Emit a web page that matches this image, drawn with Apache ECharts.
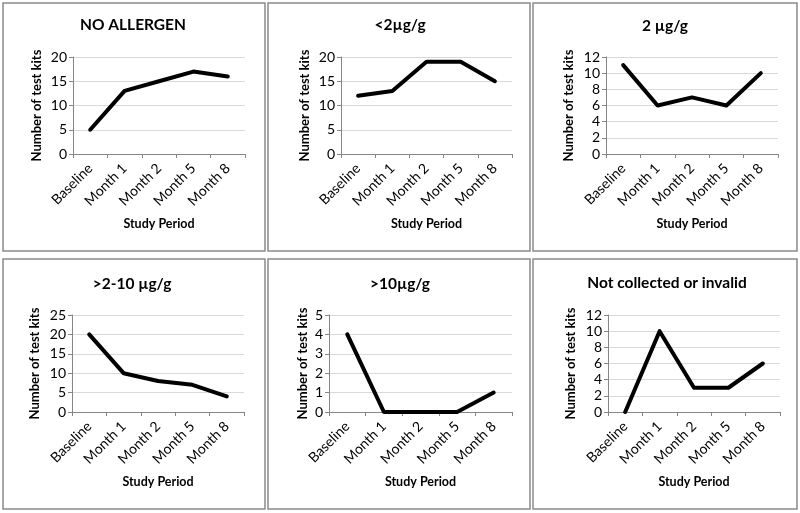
<!DOCTYPE html>
<html>
<head>
<meta charset="utf-8">
<script src="https://cdn.jsdelivr.net/npm/echarts@6/dist/echarts.min.js"></script>
<style>
  html, body { margin: 0; padding: 0; background: #fff; }
  #chart { width: 800px; height: 513px; }
</style>
</head>
<body>
<div id="chart"></div>
<script>
// ---- Data ----
const categories = ['Baseline', 'Month 1', 'Month 2', 'Month 5', 'Month 8'];
const panelTitles = ['NO ALLERGEN', '<2µg/g', '2 µg/g', '>2-10 µg/g', '>10µg/g', 'Not collected or invalid'];
const noAllergen = [5, 13, 15, 17, 16];
const lessThan2 = [12, 13, 19, 19, 15];
const exactly2 = [11, 6, 7, 6, 10];
const from2to10 = [20, 10, 8, 7, 4];
const over10 = [4, 0, 0, 0, 1];
const notCollected = [0, 10, 3, 3, 6];
const yMaxes = [20, 20, 12, 25, 5, 12];
const yIntervals = [5, 5, 2, 5, 1, 2];
const yAxisTitle = 'Number of test kits';
const xAxisTitle = 'Study Period';

// ---- Layout ----
const seriesData = [noAllergen, lessThan2, exactly2, from2to10, over10, notCollected];
const grids = [
  { left: 73, top: 57, width: 172, height: 97 },
  { left: 341, top: 57, width: 171, height: 97 },
  { left: 606, top: 57, width: 172, height: 97 },
  { left: 72, top: 315, width: 172, height: 97 },
  { left: 329, top: 315, width: 183, height: 97 },
  { left: 608, top: 315, width: 172, height: 97 }
];
const yNameGaps = [30, 30, 31, 31, 20, 31];
const titlePos = [[133, 25], [400, 25], [665, 26], [132, 284], [400, 284], [667, 283]];
const boxes = [
  [3, 3, 262, 248], [268, 3, 262, 248], [533, 3, 264, 248],
  [3, 259, 262, 250], [268, 259, 262, 250], [533, 259, 264, 250]
];

const FONT = 'Lato, "Open Sans", sans-serif';
const axisGray = '#868686';

const xAxes = [], yAxes = [], series = [], graphics = [];
for (let i = 0; i < 6; i++) {
  xAxes.push({
    type: 'category', gridIndex: i, data: categories, boundaryGap: true,
    name: xAxisTitle, nameLocation: 'middle', nameGap: 63,
    nameTextStyle: { fontFamily: FONT, fontWeight: 'bold', fontSize: 12.5, color: '#000' },
    axisLine: { lineStyle: { color: axisGray, width: 1 } },
    axisTick: { show: true, length: 4, lineStyle: { color: axisGray } },
    axisLabel: { rotate: 45, margin: 12, fontFamily: FONT, fontSize: 14, color: '#000', interval: 0 },
    splitLine: { show: false }
  });
  yAxes.push({
    type: 'value', gridIndex: i, min: 0, max: yMaxes[i], interval: yIntervals[i],
    name: yAxisTitle, nameLocation: 'middle', nameGap: yNameGaps[i], nameRotate: 90,
    nameTextStyle: { fontFamily: FONT, fontWeight: 'bold', fontSize: 13, color: '#000' },
    axisLine: { show: true, lineStyle: { color: axisGray, width: 1 } },
    axisTick: { show: true, length: 4, lineStyle: { color: axisGray } },
    axisLabel: { margin: 6, fontFamily: FONT, fontSize: 14, color: '#000' },
    splitLine: { show: true, lineStyle: { color: '#d9d9d9', width: 1 } }
  });
  series.push({
    type: 'line', xAxisIndex: i, yAxisIndex: i, data: seriesData[i],
    symbol: 'none', silent: true, animation: false,
    lineStyle: { color: '#000', width: 4, cap: 'round', join: 'round' }
  });
  graphics.push({
    type: 'rect', shape: { x: boxes[i][0], y: boxes[i][1], width: boxes[i][2], height: boxes[i][3] },
    style: { fill: 'none', stroke: '#8a8a8a', lineWidth: 1.5 }, z: -1
  });
  graphics.push({
    type: 'text', x: titlePos[i][0], y: titlePos[i][1],
    style: { text: panelTitles[i], fontFamily: FONT, fontWeight: 'bold', fontSize: 15.5, fill: '#000',
             textAlign: 'center', textVerticalAlign: 'middle' }
  });
}

const chart = echarts.init(document.getElementById('chart'), null, { renderer: 'canvas' });
chart.setOption({
  animation: false,
  backgroundColor: '#fff',
  grid: grids.map(g => Object.assign({ containLabel: false }, g)),
  xAxis: xAxes,
  yAxis: yAxes,
  series: series,
  graphic: graphics
});
</script>
</body>
</html>
